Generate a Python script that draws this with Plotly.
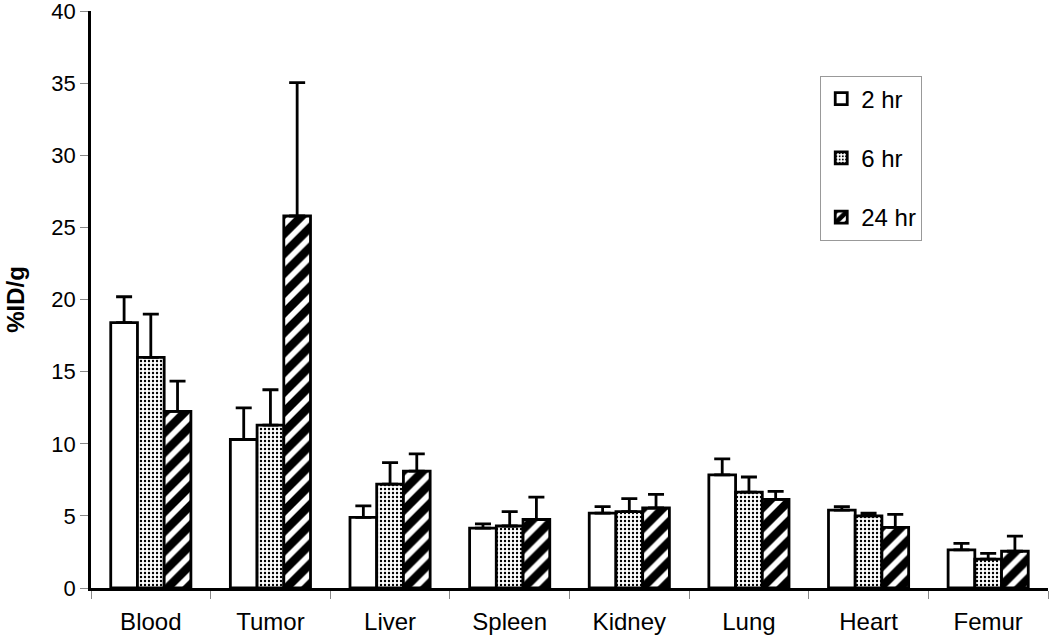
import plotly.graph_objects as go

categories = ["Blood", "Tumor", "Liver", "Spleen", "Kidney", "Lung", "Heart", "Femur"]
series_names = ["2 hr", "6 hr", "24 hr"]
vals_2hr = [18.4, 10.3, 4.9, 4.15, 5.2, 7.85, 5.4, 2.65]
err_2hr = [1.8, 2.2, 0.8, 0.3, 0.45, 1.1, 0.25, 0.45]
vals_6hr = [16.0, 11.3, 7.2, 4.3, 5.3, 6.65, 5.0, 2.0]
err_6hr = [3.0, 2.45, 1.5, 1.0, 0.9, 1.05, 0.2, 0.4]
vals_24hr = [12.25, 25.8, 8.1, 4.75, 5.55, 6.15, 4.2, 2.55]
err_24hr = [2.1, 9.25, 1.2, 1.55, 0.95, 0.55, 0.9, 1.05]
y_ticks = [0, 5, 10, 15, 20, 25, 30, 35, 40]

patterns = [dict(shape=""),
            dict(shape=".", fgcolor="black", bgcolor="white", fgopacity=1, size=4, solidity=0.28),
            dict(shape="/", fgcolor="black", bgcolor="white", fgopacity=1, size=14, solidity=0.6)]
values = [vals_2hr, vals_6hr, vals_24hr]
errors = [err_2hr, err_6hr, err_24hr]

fig = go.Figure()
for i, name in enumerate(series_names):
    fig.add_trace(go.Bar(
        x=categories, y=values[i], name=name,
        legendgroup=name,
        marker=dict(color="white", line=dict(color="black", width=2.8), pattern=patterns[i]),
        error_y=dict(type="data", array=errors[i], arrayminus=[0] * len(categories),
                     symmetric=False, color="black", thickness=2.8, width=8),
    ))

font = "Liberation Sans, Arial, sans-serif"
fig.update_layout(
    width=1050, height=639,
    margin=dict(l=91, r=2, t=11, b=51),
    paper_bgcolor="white", plot_bgcolor="white",
    barmode="group", bargap=0.33, bargroupgap=0,
    font=dict(family=font, size=24, color="black"),
    showlegend=True,
    legend=dict(x=0.762, y=0.888, xanchor="left", yanchor="top",
                bordercolor="#999999", borderwidth=1, bgcolor="white",
                traceorder="grouped", tracegroupgap=25,
                font=dict(family=font, size=24, color="black"),
                itemwidth=30),
    xaxis=dict(showline=True, linecolor="black", linewidth=2.5,
               ticks="outside", tickson="boundaries", ticklen=8, tickcolor="#888888",
               tickfont=dict(family=font, size=24, color="black"),
               ticklabelstandoff=10,
               showgrid=False, automargin=False),
    yaxis=dict(range=[0, 40.02], tickvals=y_ticks, showline=True, linecolor="black", linewidth=2.5,
               ticks="outside", ticklen=8, tickcolor="#888888",
               tickfont=dict(family=font, size=22, color="black"),
               ticklabeloverflow="allow",
               showgrid=False, zeroline=False, automargin=False,
               title=dict(text="<b>%ID/g</b>", font=dict(family=font, size=24, color="black"), standoff=20)),
)

fig.write_html("out.html", config={"displayModeBar": False},
               post_script="document.body.style.margin='0';document.body.style.padding='0';")
